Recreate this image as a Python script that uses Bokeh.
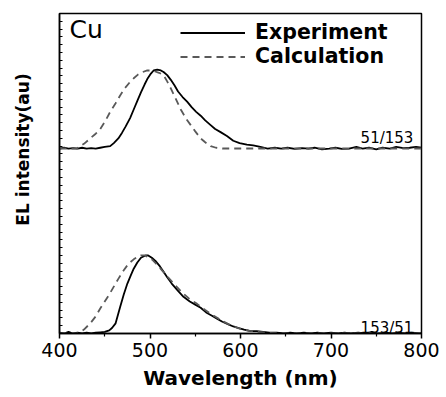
import math
from bokeh.plotting import figure
from bokeh.models import (Range1d, FixedTicker, Label, Legend, LegendItem)
from bokeh.embed import file_html
from bokeh.resources import INLINE

# ---------------- data ----------------
x_ticks = [400, 500, 600, 700, 800]
x_minor = [450, 550, 650, 750]

upper_offset = 2.37
upper_name = "51/153"
lower_name = "153/51"

# Lower spectrum (153/51), experiment
low_exp_wl = [400, 405, 410, 415, 420, 425, 430, 435, 440, 445, 450, 455, 458, 462, 467,
              471, 475, 479, 482, 486, 490, 495, 498, 502, 506, 511, 515, 519, 524, 530,
              537, 544, 550, 556, 562, 568, 574, 580, 586, 592, 598, 604, 611, 618, 625,
              632, 640, 648, 655, 662, 670, 678, 685, 692, 700, 708, 715, 722, 730, 738,
              745, 752, 760, 768, 775, 782, 790, 798, 800]
low_exp_i = [0.01, 0.0, 0.02, 0.0, 0.01, 0.002, 0.01, 0.0, 0.01, 0.015, 0.02, 0.04, 0.07, 0.13, 0.34,
             0.50, 0.64, 0.75, 0.83, 0.91, 0.97, 1.0, 1.0, 0.97, 0.93, 0.86, 0.79, 0.72, 0.64, 0.56,
             0.47, 0.41, 0.37, 0.33, 0.27, 0.23, 0.19, 0.15, 0.12, 0.09, 0.07, 0.05, 0.03, 0.03, 0.02,
             0.01, 0.01, 0.0, 0.01, 0.0, 0.01, 0.0, 0.01, 0.0, 0.01, 0.0, 0.01, 0.002, 0.01, 0.0,
             0.02, 0.0, 0.01, 0.0, 0.015, 0.0, 0.01, 0.0, 0.01]

# Lower spectrum, calculation
low_calc_wl = [400, 410, 420, 427, 434, 440, 445, 450, 455, 460, 465, 471, 476, 482, 486, 490,
               494, 498, 503, 508, 514, 520, 527, 535, 543, 552, 561, 570, 580, 590, 600, 610,
               620, 630, 640, 650, 700, 750, 800]
low_calc_i = [0.0, 0.0, 0.0, 0.05, 0.13, 0.22, 0.32, 0.41, 0.50, 0.60, 0.70, 0.81, 0.89, 0.95, 0.98, 1.0,
              1.0, 0.98, 0.94, 0.88, 0.80, 0.72, 0.63, 0.53, 0.45, 0.38, 0.30, 0.23, 0.16, 0.10, 0.06, 0.035,
              0.02, 0.01, 0.005, 0.0, 0.0, 0.0, 0.0]

# Upper spectrum (51/153), experiment
up_exp_wl = [400, 405, 410, 415, 420, 425, 430, 435, 440, 445, 450, 456, 460, 465, 469, 473,
             478, 482, 486, 490, 494, 497, 501, 504, 508, 512, 515, 519, 523, 527, 531, 536,
             541, 546, 551, 556, 561, 567, 572, 578, 585, 592, 599, 607, 614, 622, 630, 638,
             645, 652, 660, 668, 675, 682, 690, 698, 705, 712, 720, 728, 735, 742, 750, 757,
             765, 772, 780, 787, 794, 800]
up_exp_i = [0.0, 0.01, 0.0, 0.005, 0.0, 0.01, 0.0, 0.005, 0.0, 0.01, 0.02, 0.03, 0.07, 0.13, 0.20, 0.28,
            0.39, 0.50, 0.61, 0.72, 0.82, 0.89, 0.96, 1.0, 1.01, 1.0, 0.98, 0.94, 0.88, 0.81, 0.73, 0.66,
            0.60, 0.53, 0.47, 0.42, 0.36, 0.30, 0.25, 0.21, 0.16, 0.10, 0.07, 0.05, 0.04, 0.02, 0.0, 0.01,
            0.0, 0.01, -0.005, 0.005, 0.0, 0.01, -0.01, 0.0, 0.01, -0.005, 0.0, 0.02, 0.0, 0.01, -0.01, 0.01,
            0.0, 0.02, 0.005, 0.01, 0.02, 0.01]

# Upper spectrum, calculation
up_calc_wl = [400, 410, 419, 427, 434, 440, 445, 451, 456, 462, 467, 472, 477, 482, 487, 492,
              497, 501, 505, 510, 515, 519, 523, 528, 534, 540, 545, 550, 556, 561, 567, 573,
              580, 600, 700, 800]
up_calc_i = [0.0, 0.0, 0.0, 0.06, 0.13, 0.19, 0.25, 0.36, 0.47, 0.58, 0.68, 0.77, 0.84, 0.90, 0.95, 0.98,
             1.0, 1.0, 0.99, 0.97, 0.94, 0.86, 0.77, 0.65, 0.50, 0.38, 0.30, 0.22, 0.13, 0.08, 0.03, 0.01,
             0.0, 0.0, 0.0, 0.0]

FONT = "DejaVu Sans"
CALC_COLOR = "#595959"

p = figure(width=440, height=392, output_backend="svg", toolbar_location=None,
           x_range=Range1d(400, 800), y_range=Range1d(0, 4.1),
           min_border_left=59, min_border_top=13, min_border_right=19, min_border_bottom=55)
p.background_fill_color = "white"
p.border_fill_color = "white"
p.outline_line_color = "black"
p.outline_line_width = 1.5
p.xgrid.visible = False
p.ygrid.visible = False

r_le = p.line(low_exp_wl, low_exp_i, line_color="black", line_width=1.8)
r_ue = p.line(up_exp_wl, [v + upper_offset for v in up_exp_i], line_color="black", line_width=1.8)
r_lc = p.line(low_calc_wl, low_calc_i, line_color=CALC_COLOR, line_width=1.8, line_dash="7 5")
r_uc = p.line(up_calc_wl, [v + upper_offset for v in up_calc_i], line_color=CALC_COLOR,
              line_width=1.8, line_dash="7 5")

# x axis
xa = p.xaxis[0]
xa.ticker = FixedTicker(ticks=x_ticks, minor_ticks=x_minor)
xa.major_tick_out = 5
xa.major_tick_in = 0
xa.minor_tick_out = 3
xa.minor_tick_in = 0
xa.axis_line_width = 1.5
xa.major_tick_line_width = 1.5
xa.minor_tick_line_width = 1.2
xa.major_label_text_font = FONT
xa.major_label_text_font_size = "19px"
xa.major_label_text_color = "black"
xa.major_label_standoff = 4
xa.axis_label = "Wavelength (nm)"
xa.axis_label_text_font = FONT
xa.axis_label_text_font_size = "20px"
xa.axis_label_text_font_style = "bold"
xa.axis_label_text_color = "black"
xa.axis_label_standoff = 6

# y axis: only small inward (minor) ticks, no labels
ya = p.yaxis[0]
ya.ticker = FixedTicker(ticks=[], minor_ticks=[i / 10 for i in range(42)])
ya.minor_tick_in = 3
ya.minor_tick_out = 0
ya.minor_tick_line_width = 1
ya.major_tick_in = 0
ya.major_tick_out = 0
ya.axis_line_width = 1.5
ya.axis_label = None

# y label in the left side panel (screen units relative to that panel)
p.add_layout(Label(x=-17, y=184, x_units="screen", y_units="screen", angle=math.pi / 2,
                   text="EL intensity(au)", text_font=FONT, text_font_size="17px",
                   text_font_style="bold", text_align="center", text_baseline="alphabetic",
                   text_color="black"), "left")

# texts
p.add_layout(Label(x=411, y=4.08, text="Cu", text_font=FONT, text_font_size="25px",
                   text_baseline="top", text_color="black"))
p.add_layout(Label(x=791, y=2.5, text=upper_name, text_font=FONT, text_font_size="15px",
                   text_align="right", text_baseline="alphabetic", text_color="black"))
p.add_layout(Label(x=791, y=0.07, text=lower_name, text_font=FONT, text_font_size="15px",
                   text_align="right", text_baseline="alphabetic", text_color="black"))

legend = Legend(items=[LegendItem(label="Experiment", renderers=[r_le]),
                       LegendItem(label="Calculation", renderers=[r_lc])],
                location=(121, 265), glyph_width=65, glyph_height=23, label_height=23,
                spacing=0, padding=0, margin=0, label_standoff=10,
                background_fill_alpha=0, border_line_color=None,
                label_text_font=FONT, label_text_font_size="20.5px",
                label_text_font_style="bold", label_text_color="black")
p.add_layout(legend)

open("out.html", "w").write(file_html(p, INLINE))
